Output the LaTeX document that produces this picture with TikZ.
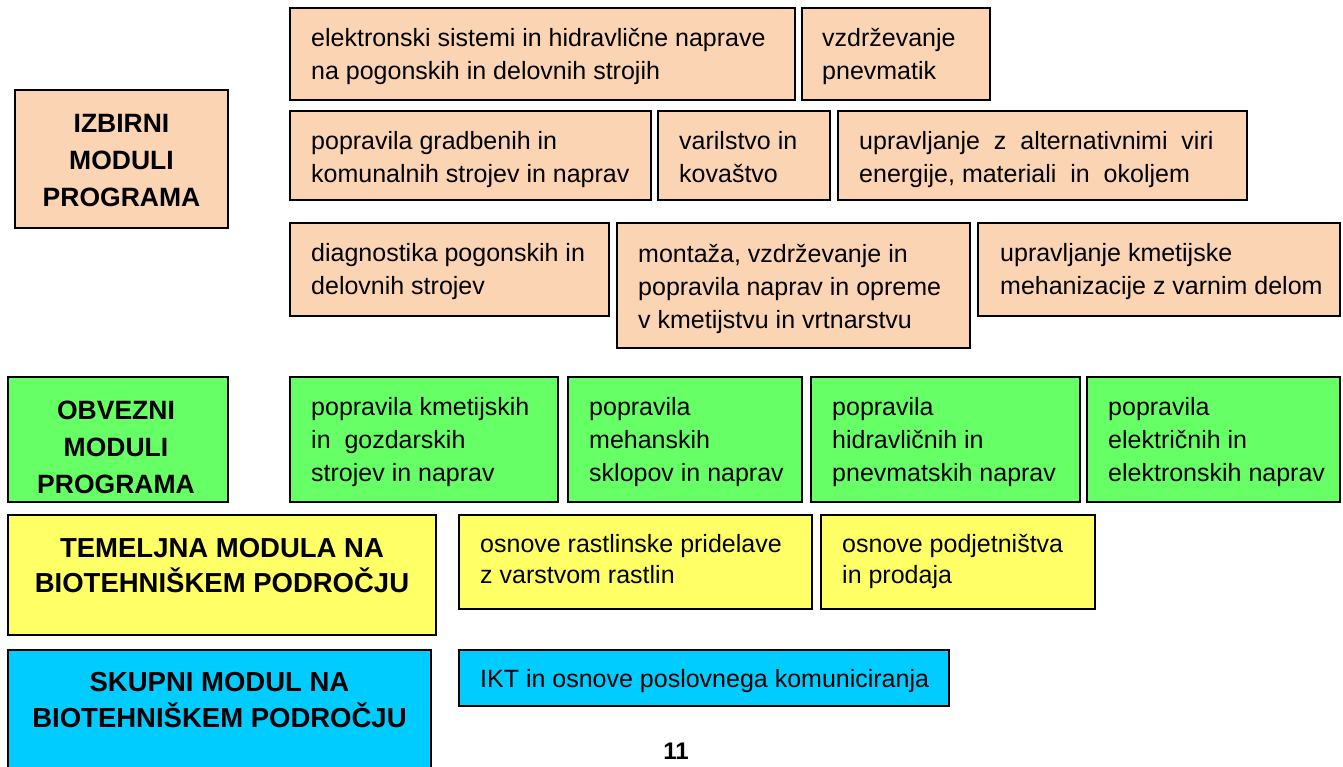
\documentclass[tikz,border=0pt]{standalone}
\usepackage{fontspec}
\setmainfont{Liberation Sans}
\definecolor{peach}{HTML}{FBD4B4}
\definecolor{mgreen}{HTML}{66FF66}
\definecolor{myellow}{HTML}{FFFF66}
\definecolor{mcyan}{HTML}{00CCFF}
\newcommand{\fl}{\rule{0pt}{24pt}}
\begin{document}
\begin{tikzpicture}[x=1pt,y=-1pt,
  modbox/.style={draw=black, line width=1.5pt, anchor=north west, inner sep=0pt, outer sep=0pt},
  bodytxt/.style={anchor=north west, inner sep=0pt, align=left, font=\fontsize{25}{33}\selectfont},
  headtxt/.style={anchor=north, inner sep=0pt, align=center},
]
\useasboundingbox (0,0) rectangle (1343,766);
\fill[white] (0,0) rectangle (1343,766);

% ---- IZBIRNI ----
\node[modbox, fill=peach, minimum width=213pt, minimum height=138pt] (izb) at (15,90) {};
\node[headtxt, font=\fontsize{26.5}{37}\selectfont\bfseries] (izbt) at (121.5,108) {\fl IZBIRNI\\MODULI\\PROGRAMA};

\node[modbox, fill=peach, minimum width=505pt, minimum height=92pt] (b1) at (290,8) {};
\node[bodytxt] (b1t) at ([shift={(21,14)}]b1.north west) {\fl elektronski sistemi in hidravlične naprave\\na pogonskih in delovnih strojih};

\node[modbox, fill=peach, minimum width=188pt, minimum height=92pt] (b2) at (802,8) {};
\node[bodytxt] (b2t) at ([shift={(20,14)}]b2.north west) {\fl vzdrževanje\\pnevmatik};

\node[modbox, fill=peach, minimum width=361pt, minimum height=89pt] (b3) at (290,111) {};
\node[bodytxt] (b3t) at ([shift={(21,14)}]b3.north west) {\fl popravila gradbenih in\\komunalnih strojev in naprav};

\node[modbox, fill=peach, minimum width=172pt, minimum height=89pt] (b4) at (658,111) {};
\node[bodytxt] (b4t) at ([shift={(21,14)}]b4.north west) {\fl varilstvo in\\kovaštvo};

\node[modbox, fill=peach, minimum width=409pt, minimum height=89pt] (b5) at (838,111) {};
\node[bodytxt] (b5t) at ([shift={(21,14)}]b5.north west) {\fl upravljanje\ \ z\ \ alternativnimi\ \ viri\\energije, materiali\ \ in\ \ okoljem};

\node[modbox, fill=peach, minimum width=319pt, minimum height=93pt] (b6) at (290,223) {};
\node[bodytxt] (b6t) at ([shift={(21,14)}]b6.north west) {\fl diagnostika pogonskih in\\delovnih strojev};

\node[modbox, fill=peach, minimum width=353pt, minimum height=125pt] (b7) at (617,223) {};
\node[bodytxt] (b7t) at ([shift={(21,15)}]b7.north west) {\fl montaža, vzdrževanje in\\popravila naprav in opreme\\v kmetijstvu in vrtnarstvu};

\node[modbox, fill=peach, minimum width=362pt, minimum height=93pt] (b8) at (978,223) {};
\node[bodytxt] (b8t) at ([shift={(22,14)}]b8.north west) {\fl upravljanje kmetijske\\mehanizacije z varnim delom};

% ---- OBVEZNI ----
\node[modbox, fill=mgreen, minimum width=220pt, minimum height=125pt] (obv) at (8,377) {};
\node[headtxt, font=\fontsize{26.5}{37}\selectfont\bfseries] (obvt) at (116,395) {\fl OBVEZNI\\MODULI\\PROGRAMA};

\node[modbox, fill=mgreen, minimum width=268pt, minimum height=125pt] (g1) at (290,377) {};
\node[bodytxt] (g1t) at ([shift={(21,14)}]g1.north west) {\fl popravila kmetijskih\\in\ \ gozdarskih\\strojev in naprav};

\node[modbox, fill=mgreen, minimum width=234pt, minimum height=125pt] (g2) at (568,377) {};
\node[bodytxt] (g2t) at ([shift={(21,14)}]g2.north west) {\fl popravila\\mehanskih\\sklopov in naprav};

\node[modbox, fill=mgreen, minimum width=269pt, minimum height=125pt] (g3) at (811,377) {};
\node[bodytxt] (g3t) at ([shift={(21,14)}]g3.north west) {\fl popravila\\hidravličnih in\\pnevmatskih naprav};

\node[modbox, fill=mgreen, minimum width=253pt, minimum height=125pt] (g4) at (1087,377) {};
\node[bodytxt] (g4t) at ([shift={(21,14)}]g4.north west) {\fl popravila\\električnih in\\elektronskih naprav};

% ---- TEMELJNA ----
\node[modbox, fill=myellow, minimum width=428pt, minimum height=120pt] (tem) at (8,515) {};
\node[headtxt, font=\fontsize{27.5}{35}\selectfont\bfseries] (temt) at (222,533) {\fl TEMELJNA MODULA NA\\BIOTEHNIŠKEM PODROČJU};

\node[modbox, fill=myellow, minimum width=353pt, minimum height=94pt] (y1) at (459,515) {};
\node[bodytxt, font=\fontsize{25}{31}\selectfont] (y1t) at ([shift={(21,13)}]y1.north west) {\fl osnove rastlinske pridelave\\z varstvom rastlin};

\node[modbox, fill=myellow, minimum width=274pt, minimum height=94pt] (y2) at (821,515) {};
\node[bodytxt, font=\fontsize{25}{31}\selectfont] (y2t) at ([shift={(21,13)}]y2.north west) {\fl osnove podjetništva\\in prodaja};

% ---- SKUPNI ----
\node[modbox, fill=mcyan, minimum width=423pt, minimum height=130pt] (sku) at (8,650) {};
\node[headtxt, font=\fontsize{27.5}{36}\selectfont\bfseries] (skut) at (219.5,667) {\fl SKUPNI MODUL NA\\BIOTEHNIŠKEM PODROČJU};

\node[modbox, fill=mcyan, minimum width=490pt, minimum height=56pt] (c1) at (459,650) {};
\node[bodytxt] (c1t) at ([shift={(21,13)}]c1.north west) {\fl IKT in osnove poslovnega komuniciranja};

% ---- page number ----
\node[anchor=base, inner sep=0pt, font=\fontsize{24}{24}\selectfont\bfseries] (pg) at (676,759) {11};
\end{tikzpicture}
\end{document}
